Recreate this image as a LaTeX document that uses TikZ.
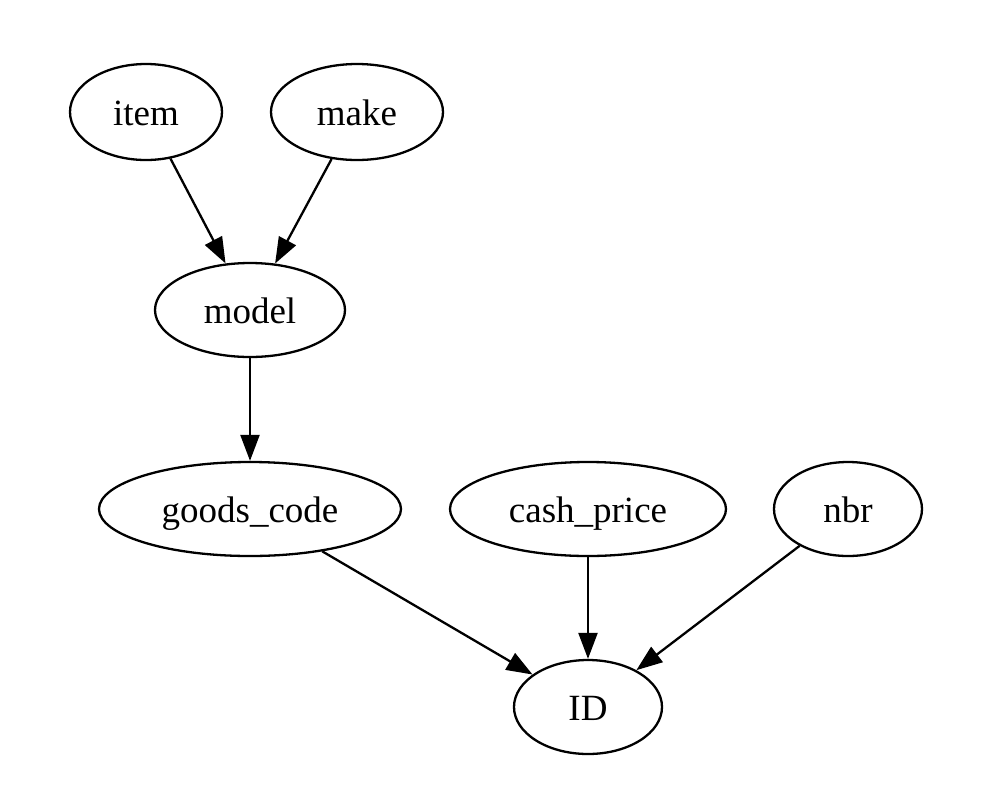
\documentclass[tikz,border=0pt]{standalone}
\usepackage{fontspec}
\setmainfont{Liberation Serif}
\usetikzlibrary{shapes.geometric,arrows.meta}
\begin{document}
\begin{tikzpicture}[x=1pt,y=-1pt,
  nd/.style={draw,ellipse,line width=2.3pt,inner sep=0pt,text height=26pt,text depth=0pt,font=\fontsize{37}{42}\selectfont},
  edge/.style={draw,line width=2.3pt,-{Triangle[length=26pt,width=19pt]}}]
\path[use as bounding box,fill=white] (0,0) rectangle (986,804);
\node[nd,minimum width=152pt,minimum height=96pt] (item) at (146,112) {item};
\node[nd,minimum width=172pt,minimum height=96pt] (make) at (357,112) {make};
\node[nd,minimum width=190pt,minimum height=94pt] (model) at (250,310) {model};
\node[nd,minimum width=302pt,minimum height=94pt] (goods) at (250,509) {goods\_code};
\node[nd,minimum width=276pt,minimum height=94pt] (cash) at (588,509) {cash\_price};
\node[nd,minimum width=148pt,minimum height=94pt] (nbr) at (848,509) {nbr};
\node[nd,minimum width=148pt,minimum height=94pt] (id) at (588,707) {ID};
\draw[edge] (item) -- (model);
\draw[edge] (make) -- (model);
\draw[edge] (model) -- (goods);
\draw[edge] (goods) -- (id);
\draw[edge] (cash) -- (id);
\draw[edge] (nbr) -- (id);
\end{tikzpicture}
\end{document}
